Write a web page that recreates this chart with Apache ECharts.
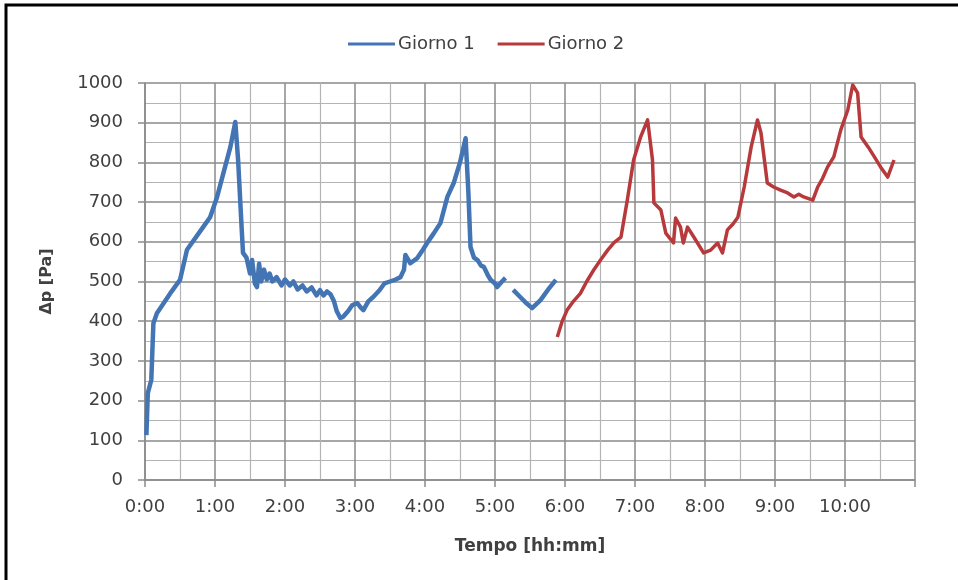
<!DOCTYPE html>
<html>
<head>
<meta charset="utf-8">
<script src="https://cdn.jsdelivr.net/npm/echarts@6/dist/echarts.min.js"></script>
<style>
  html, body { margin: 0; padding: 0; background: #ffffff; }
  #chart { width: 958px; height: 580px; }
</style>
</head>
<body>
<div id="chart"></div>
<script>
// Tempo in ore dall'inizio della prova, Δp in Pa
const giorno1Ore = [
  0.02, 0.04, 0.09, 0.12, 0.17, 0.36, 0.50, 0.60, 0.83, 0.93, 1.03, 1.12, 1.22, 1.29,
  1.33, 1.38, 1.40, 1.45, 1.50, 1.53, 1.57, 1.60, 1.63, 1.66, 1.70, 1.74, 1.78, 1.82,
  1.88, 1.95, 2.00, 2.07, 2.12, 2.18, 2.25, 2.31, 2.38, 2.45, 2.50, 2.55, 2.60, 2.65,
  2.70, 2.74, 2.79, 2.83, 2.90, 2.96, 3.03, 3.08, 3.12, 3.19, 3.26, 3.35, 3.42, 3.50,
  3.58, 3.65, 3.70, 3.72, 3.79, 3.89, 3.97, 4.03, 4.12, 4.22, 4.27, 4.32, 4.41, 4.50,
  4.58, 4.62, 4.65, 4.70, 4.75, 4.80, 4.84, 4.90, 4.94, 5.00, 5.03, 5.10, 5.15,
  5.20,
  5.26, 5.36, 5.45, 5.53, 5.65, 5.76, 5.87
];
const giorno1Dp = [
  113, 219, 252, 395, 420, 470, 504, 580, 637, 662, 713, 773, 839, 902,
  806, 637, 572, 560, 520, 554, 495, 486, 545, 500, 530, 505, 520, 500,
  511, 490, 505, 490, 500, 480, 490, 475, 485, 465, 478, 465, 475, 468,
  450, 425, 408, 411, 425, 440, 446, 435, 428, 450, 461, 478, 495, 500,
  505, 511, 530, 567, 546, 559, 580, 597, 620, 647, 680, 713, 748, 800,
  861, 723, 587, 560, 554, 540, 537, 515, 504, 495, 486, 500, 509,
  '-',
  479, 461, 445, 433, 453, 480, 504
];

const giorno2Ore = [
  5.89, 5.96, 6.03, 6.12, 6.22, 6.31, 6.41, 6.51, 6.61, 6.70, 6.80, 6.89, 6.98, 7.08,
  7.18, 7.25, 7.27, 7.37, 7.44, 7.55, 7.58, 7.65, 7.69, 7.75, 7.84, 7.98, 8.08, 8.18,
  8.25, 8.32, 8.40, 8.47, 8.56, 8.66, 8.75, 8.80, 8.89, 8.98, 9.08, 9.18, 9.27, 9.34,
  9.41, 9.54, 9.61, 9.68, 9.75, 9.84, 9.94, 10.04, 10.11, 10.18, 10.23, 10.33, 10.42,
  10.51, 10.61, 10.70
];
const giorno2Dp = [
  360, 400, 428, 450, 470, 500, 529, 555, 579, 598, 612, 705, 806, 864,
  907, 806, 698, 680, 622, 597, 660, 637, 597, 637, 612, 572, 579, 597,
  572, 630, 645, 662, 738, 839, 907, 874, 748, 738, 730, 723, 713, 720,
  713, 705, 738, 760, 788, 814, 882, 932, 995, 975, 864, 839, 814,
  788, 763, 806
];

const pairs = (xs, ys) => xs.map((x, i) => [x, ys[i]]);

const chart = echarts.init(document.getElementById('chart'));
const testo = '#404040';
const grigliaPrincipale = '#8a8a8a';
const grigliaSecondaria = '#b4b4b4';

chart.setOption({
  animation: false,
  backgroundColor: '#ffffff',
  grid: { left: 145, right: 43, top: 83, bottom: 100 },
  legend: {
    left: 343,
    top: 30,
    itemWidth: 47,
    itemHeight: 3,
    itemGap: 23,
    icon: 'rect',
    textStyle: { fontFamily: 'DejaVu Sans', fontSize: 18, color: testo, padding: [0, 0, 0, -2] },
    data: ['Giorno 1', 'Giorno 2']
  },
  xAxis: {
    type: 'value',
    min: 0,
    max: 11,
    interval: 1,
    name: 'Tempo [hh:mm]',
    nameLocation: 'middle',
    nameGap: 58,
    nameTextStyle: { fontFamily: 'DejaVu Sans', fontWeight: 'bold', fontSize: 17, color: testo },
    axisLine: { show: true, lineStyle: { color: grigliaPrincipale, width: 1.5 } },
    axisTick: { show: true, length: 7, lineStyle: { color: grigliaPrincipale, width: 1.5 } },
    axisLabel: {
      margin: 18,
      fontFamily: 'DejaVu Sans',
      fontSize: 18,
      color: testo,
      formatter: v => (v <= 10 ? Math.round(v) + ':00' : '')
    },
    splitLine: { show: true, lineStyle: { color: grigliaPrincipale, width: 1.5 } },
    minorTick: { show: false, splitNumber: 2 },
    minorSplitLine: { show: true, lineStyle: { color: grigliaSecondaria, width: 1.2 } }
  },
  yAxis: {
    type: 'value',
    min: 0,
    max: 1000,
    interval: 100,
    name: 'Δp [Pa]',
    nameLocation: 'middle',
    nameGap: 90,
    nameTextStyle: { fontFamily: 'DejaVu Sans', fontWeight: 'bold', fontSize: 16, color: testo },
    axisLine: { show: true, lineStyle: { color: grigliaPrincipale, width: 1.5 } },
    axisTick: { show: true, length: 7, lineStyle: { color: grigliaPrincipale, width: 1.5 } },
    axisLabel: {
      margin: 22,
      fontFamily: 'DejaVu Sans',
      fontSize: 18,
      color: testo,
      formatter: v => String(v)
    },
    splitLine: { show: true, lineStyle: { color: grigliaPrincipale, width: 1.5 } },
    minorTick: { show: false, splitNumber: 2 },
    minorSplitLine: { show: true, lineStyle: { color: grigliaSecondaria, width: 1.2 } }
  },
  series: [
    {
      name: 'Giorno 1',
      type: 'line',
      showSymbol: false,
      connectNulls: false,
      color: '#4375B5',
      lineStyle: { width: 4.5, color: '#4375B5', join: 'round' },
      data: pairs(giorno1Ore, giorno1Dp)
    },
    {
      name: 'Giorno 2',
      type: 'line',
      showSymbol: false,
      color: '#B8393B',
      lineStyle: { width: 3.5, color: '#B8393B', join: 'round' },
      data: pairs(giorno2Ore, giorno2Dp)
    }
  ],
  graphic: [
    {
      type: 'rect',
      silent: true,
      shape: { x: 6, y: 5, width: 1000, height: 1000 },
      style: { fill: 'none', stroke: '#000000', lineWidth: 3 }
    }
  ]
});
</script>
</body>
</html>
